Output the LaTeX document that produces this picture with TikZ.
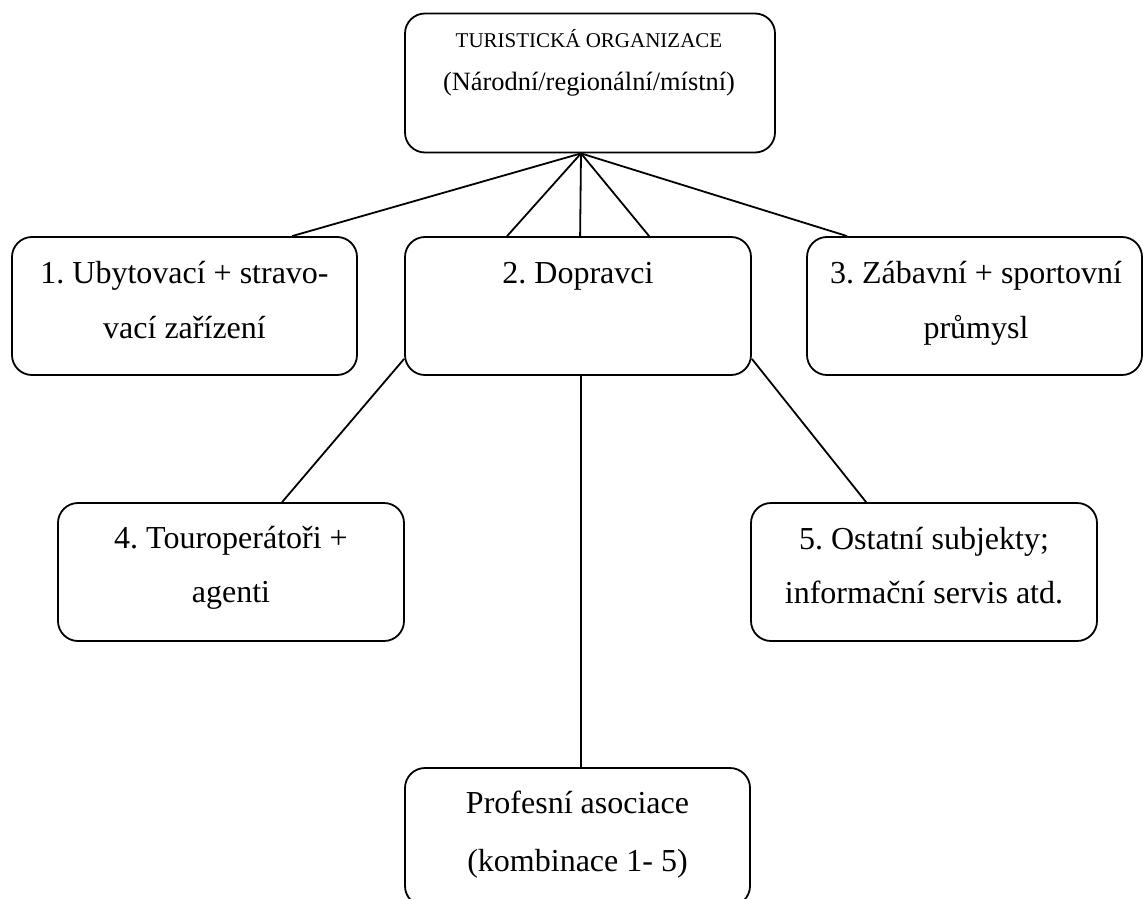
\documentclass[tikz,border=0pt]{standalone}
\usepackage{fontspec}
\setmainfont{Liberation Serif}
\frenchspacing
\begin{document}
\begin{tikzpicture}[x=1pt,y=-1pt,
  box/.style={draw, line width=1.8pt, rounded corners=20pt, minimum width=#1, minimum height=138pt, inner sep=0pt},
  box/.default=346pt,
  txt/.style={font=\fontsize{32}{36}\selectfont, inner sep=0pt, anchor=base},
  con/.style={draw, line width=1.8pt}]
\useasboundingbox (0,0) rectangle (1143,899);
\node[box=370pt, minimum height=139pt] (top) at (590,83) {};
\node[box=345pt] (b1) at (184.5,306) {};
\node[box=346pt] (b2) at (578,306) {};
\node[box=335pt] (b3) at (974.5,306) {};
\node[box=346pt] (b4) at (231,572) {};
\node[box=346pt] (b5) at (924,572) {};
\node[box=345pt] (b6) at (577.5,837) {};
% texts
\node[txt, font=\fontsize{21}{24}\selectfont] (t0a) at (589,48) {TURISTICKÁ ORGANIZACE};
\node[txt, font=\fontsize{26.4}{30}\selectfont] (t0b) at (589,90) {(Národní/regionální/místní)};
\node[txt] (t1a) at (184.5,283) {1. Ubytovací + stravo-};
\node[txt] (t1b) at (184.5,338) {vací zařízení};
\node[txt] (t2a) at (578,283) {2. Dopravci};
\node[txt] (t3a) at (976,283) {3. Zábavní + sportovní};
\node[txt] (t3b) at (976,338) {průmysl};
\node[txt] (t4a) at (231,548) {4. Touroperátoři +};
\node[txt] (t4b) at (231,602) {agenti};
\node[txt] (t5a) at (924,549) {5. Ostatní subjekty;};
\node[txt] (t5b) at (924,603) {informační servis atd.};
\node[txt] (t6a) at (577.5,813) {Profesní asociace};
\node[txt] (t6b) at (577.5,871) {(kombinace 1- 5)};
% connectors
\coordinate (apex) at ([xshift=-9pt]top.south);
\draw[con] (apex) -- ([xshift=281pt]b1.north west);
\draw[con] (apex) -- ([xshift=103pt]b2.north west);
\draw[con] (apex) -- ([xshift=176pt]b2.north west);
\draw[con] (apex) -- ([xshift=245pt]b2.north west);
\draw[con] (apex) -- ([xshift=41pt]b3.north west);
\draw[con] ([yshift=17pt]b2.south west) -- ([xshift=225pt]b4.north west);
\draw[con] ([yshift=17pt]b2.south east) -- ([xshift=116pt]b5.north west);
\draw[con] ([xshift=3pt]b2.south) -- ([xshift=3.5pt]b6.north);
\end{tikzpicture}
\end{document}
